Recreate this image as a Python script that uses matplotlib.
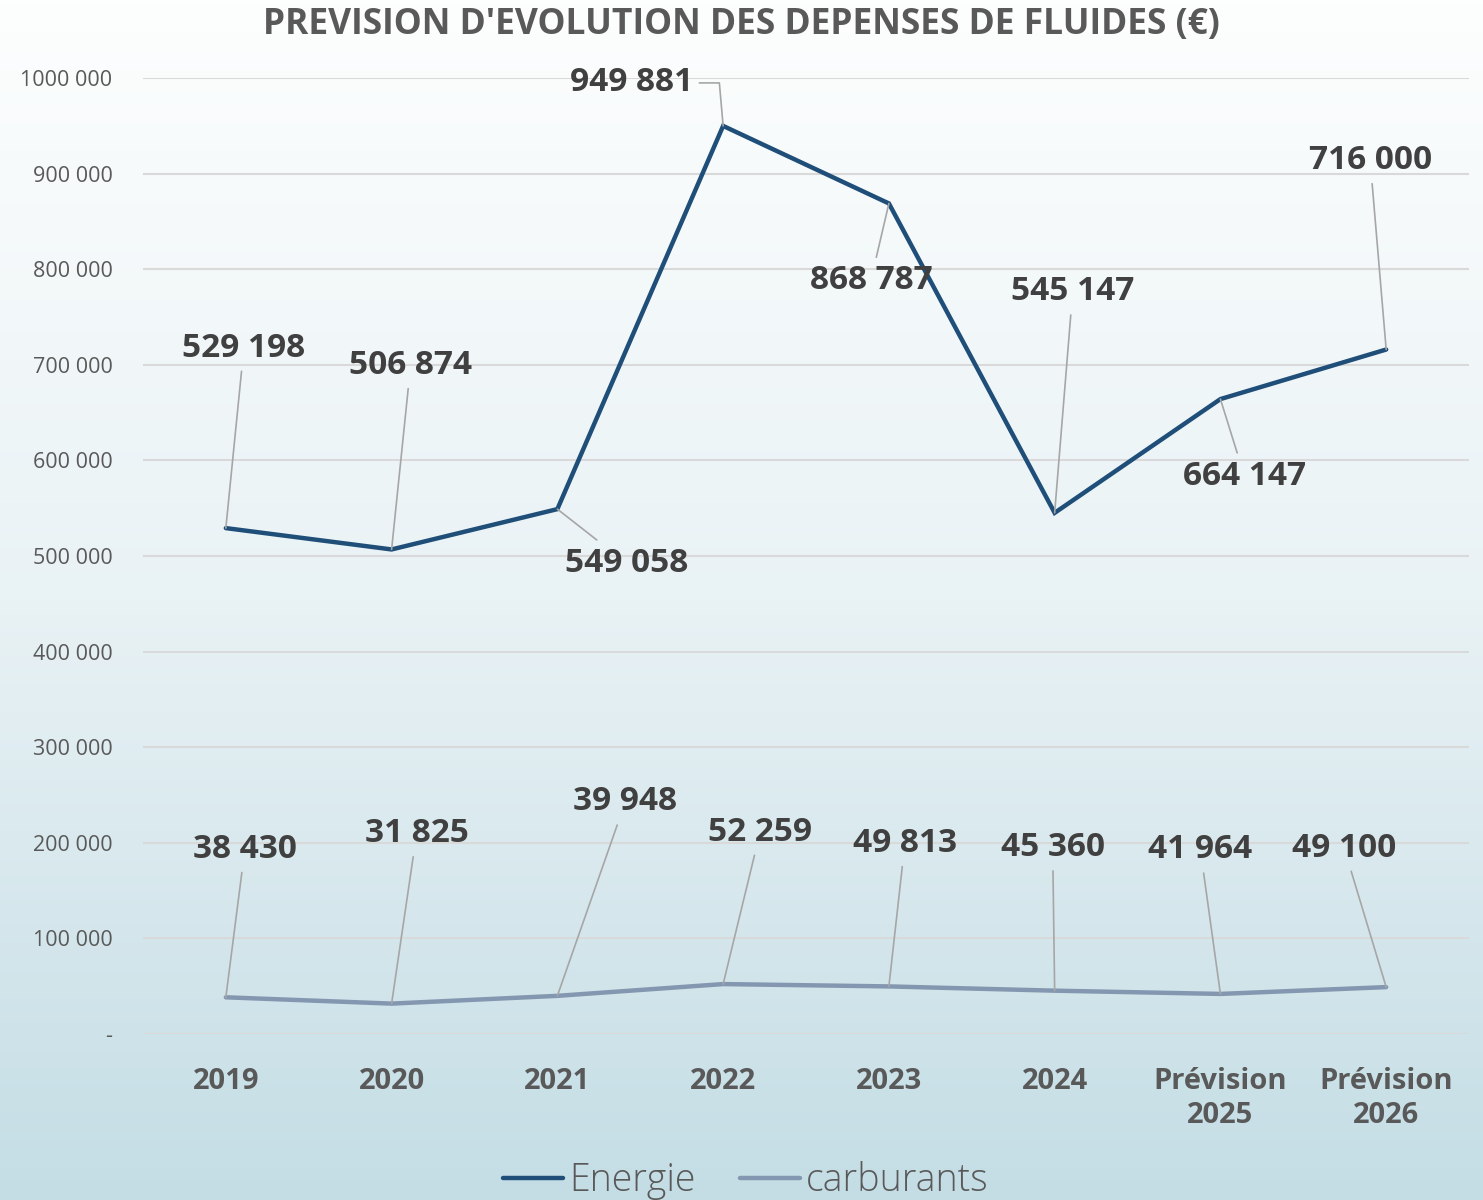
import numpy as np
import matplotlib.pyplot as plt
from matplotlib.colors import LinearSegmentedColormap

plt.rcParams['font.family'] = ['Open Sans', 'DejaVu Sans']

categories = ["2019", "2020", "2021", "2022", "2023", "2024",
              "Prévision\n2025", "Prévision\n2026"]
energie = [529198, 506874, 549058, 949881, 868787, 545147, 664147, 716000]
carburants = [38430, 31825, 39948, 52259, 49813, 45360, 41964, 49100]
energie_labels = ["529 198", "506 874", "549 058", "949 881", "868 787",
                  "545 147", "664 147", "716 000"]
carb_labels = ["38 430", "31 825", "39 948", "52 259", "49 813", "45 360",
               "41 964", "49 100"]
y_ticks = [0, 100000, 200000, 300000, 400000, 500000, 600000, 700000,
           800000, 900000, 1000000]
y_ticklabels = ["-", "100 000", "200 000", "300 000", "400 000", "500 000",
                "600 000", "700 000", "800 000", "900 000", "1000 000"]

# label offsets in pixels (dx, dy) from each point
energie_off = [(18, 180), (19, 184), (69, -54), (-92, 43), (-18, -77),
               (18, 221), (24, -77), (-16, 189)]
carb_off = [(19, 148), (25, 170), (68, 194), (37, 152), (16, 143),
            (-2, 143), (-20, 144), (-42, 139)]

C_EN = "#1f4e79"
C_CA = "#8497b0"
GREY = "#595959"

fig = plt.figure(figsize=(14.83, 12), dpi=100)

# gradient background
bg = fig.add_axes([0, 0, 1, 1], zorder=-10)
cmap = LinearSegmentedColormap.from_list("bg", ["#fdfefe", "#e9f2f5", "#c4dde5"])
bg.imshow(np.linspace(0, 1, 256).reshape(-1, 1), aspect="auto", cmap=cmap,
          extent=[0, 1, 0, 1])
bg.set_axis_off()

ax = fig.add_axes([0.0964, 0.1383, 0.8942, 0.7967])
ax.patch.set_alpha(0)
x = np.arange(len(categories))

ax.plot(x, energie, color=C_EN, lw=3.2, solid_capstyle="round",
        solid_joinstyle="miter", label="Energie", zorder=3)
ax.plot(x, carburants, color=C_CA, lw=3.2, solid_capstyle="round",
        label="carburants", zorder=3)

ax.set_xlim(-0.5, len(categories) - 0.5)
ax.set_ylim(0, 1000000)
ax.set_yticks(y_ticks)
ax.set_yticklabels(y_ticklabels, fontsize=15.5, color=GREY)
ax.set_xticks(x)
ax.set_xticklabels(categories, fontsize=21, fontweight="bold", color=GREY,
                   linespacing=1.2)
ax.tick_params(axis="both", length=0)
ax.tick_params(axis="x", pad=24)
ax.tick_params(axis="y", pad=22)
ax.grid(axis="y", color="#d9d9d9", lw=1.5)
ax.set_axisbelow(True)
for s in ax.spines.values():
    s.set_visible(False)


def label(xi, yi, txt, off, conn="arc3"):
    ax.annotate(txt, xy=(xi, yi), xytext=off, textcoords="offset pixels",
                ha="center", va="center", fontsize=24, fontweight="bold",
                color="#404040", zorder=5,
                bbox=dict(boxstyle="square,pad=0.2", fc="none", ec="none"),
                arrowprops=dict(arrowstyle="-", color="#a6a6a6", lw=1.2,
                                shrinkA=0, shrinkB=0, connectionstyle=conn))


for i in range(len(categories)):
    conn = "angle,angleA=0,angleB=95,rad=0" if i == 3 else "arc3"
    label(x[i], energie[i], energie_labels[i], energie_off[i], conn)
    label(x[i], carburants[i], carb_labels[i], carb_off[i])

fig.text(0.5, 0.979, "PREVISION D'EVOLUTION DES DEPENSES DE FLUIDES (€)",
         ha="center", va="center", fontsize=25.5, fontweight="bold", color=GREY)

fig.legend(loc="center", bbox_to_anchor=(0.503, 0.016), ncol=2,
           frameon=False, handlelength=1.6, handletextpad=0.15,
           columnspacing=1.2, labelcolor=GREY,
           prop={"size": 27, "weight": "light"})

fig.savefig("out.png", dpi=100)
